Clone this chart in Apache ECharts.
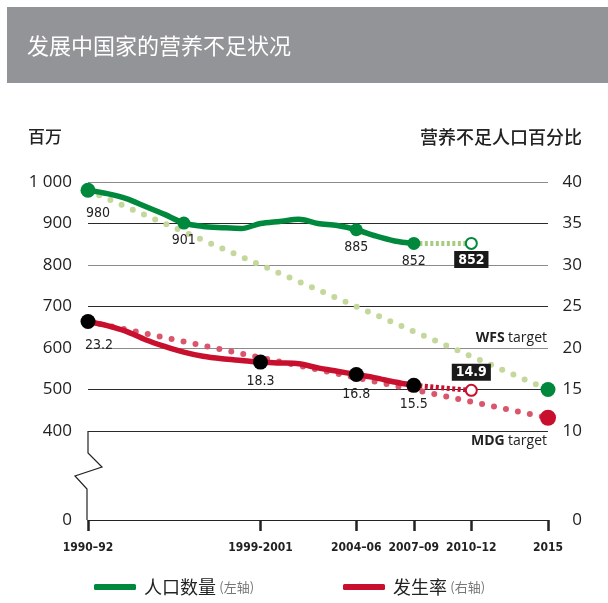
<!DOCTYPE html>
<html><head><meta charset="utf-8">
<script src="https://cdn.jsdelivr.net/npm/echarts@6.0.0/dist/echarts.min.js"></script>
<style>html,body{margin:0;padding:0;background:#fff}#c{width:608px;height:603px}</style>
</head><body><div id="c"></div>
<script>
// ---- data ----
const years = [1991,1992,1993,1994,1995,1996,1997,1998,1999,2000,2001,2002,2003,2004,2005,2006,2007,2008];
const popMillions = [980,972,960,941,922,901,893,890,888,900,905,910,900,895,885,870,858,852];
const undernourishedPct = [23.2,22.7,22.0,21.0,20.2,19.5,19.0,18.7,18.5,18.3,18.2,18.1,17.6,17.2,16.8,16.4,15.9,15.5];
const popKeyYears = [1991,1996,2005,2008];
const popKeyValues = [980,901,885,852];
const pctKeyYears = [1991,2000,2005,2008];
const pctKeyValues = [23.2,18.3,16.8,15.5];
const projYears = [2008,2011];
const popProjValues = [852,852];
const pctProjValues = [15.5,14.9];
const targetYears = [1991,2015];
const wfsTargetValues = [980,500];
const mdgTargetValues = [23.2,11.6];
const tickYears = [1991,2000,2005,2008,2011,2015];
const tickLabels = ['1990–92','1999-2001','2004–06','2007–09','2010–12','2015'];
const leftAxis = {min:400, max:1000, interval:100};
const rightAxis = {min:10, max:40, interval:5};
const titleText = '发展中国家的营养不足状况';
const leftTitle = '百万';
const rightTitle = '营养不足人口百分比';
const popName = '人口数量', pctName = '发生率';

// ---- styles ----
const GREEN = '#00883d', LGREEN = '#c3d89a', PGREEN = '#a8cb80';
const RED = '#c8102e', PINK = '#d9566c';
const NUM = '"Open Sans","Noto Sans",sans-serif';
const NARROW = '"Liberation Sans Narrow","DejaVu Sans Condensed","Roboto",sans-serif';
const CJK = '"Noto Sans CJK SC",sans-serif';
const G = {left:88, right:60, top:182, h:249, bh:89};

const zip = (xs, ys) => xs.map((x,i)=>[x, ys[i]]);
const noEmph = {disabled:true};

const chart = echarts.init(document.getElementById('c'), null, {renderer:'canvas'});
const lastOnly = (sym) => (v, p) => (p.dataIndex === 1 ? sym : 'none');

const keyLabel = (arr, first) => arr.map((d,i)=>({
  value:d,
  label: i===0 ? {offset:[first, 0], distance: 9} : {}
}));

chart.setOption({
  animation:false,
  grid:[
    {left:G.left, right:G.right, top:G.top, height:G.h},
    {left:G.left, right:G.right, top:G.top+G.h, height:G.bh}
  ],
  xAxis:[
    {gridIndex:0, type:'value', min:1991, max:2015, show:false},
    {gridIndex:1, type:'value', min:1991, max:2015,
     axisLine:{show:true, lineStyle:{color:'#222', width:1}},
     axisTick:{show:true, customValues:tickYears, length:11, lineStyle:{color:'#222', width:2.5}},
     splitLine:{show:false},
     axisLabel:{customValues:tickYears, margin:22, color:'#222', fontFamily:NARROW, fontWeight:'bold', fontSize:12,
       formatter:(v)=>tickLabels[tickYears.indexOf(v)] || ''}}
  ],
  yAxis:[
    {gridIndex:0, type:'value', position:'left', min:leftAxis.min, max:leftAxis.max, interval:leftAxis.interval,
     axisLine:{show:false}, axisTick:{show:false},
     splitLine:{show:true, lineStyle:{color:['#2a2a2a','#2a2a2a','#8c8c8c','#2a2a2a','#8c8c8c','#2a2a2a','#8c8c8c'], width:1.2}},
     axisLabel:{margin:16, color:'#222', fontFamily:NUM, fontSize:17,
       formatter:(v)=> v>=1000 ? String(v).replace(/(\d)(\d{3})$/,'$1 $2') : String(v)}},
    {gridIndex:0, type:'value', position:'right', min:rightAxis.min, max:rightAxis.max, interval:rightAxis.interval,
     axisLine:{show:false}, axisTick:{show:false}, splitLine:{show:false},
     axisLabel:{margin:34, align:'right', color:'#222', fontFamily:NUM, fontSize:17}},
    {gridIndex:1, type:'value', position:'left', min:0, max:1, interval:1,
     axisLine:{show:false}, axisTick:{show:false}, splitLine:{show:false},
     axisLabel:{margin:16, color:'#222', fontFamily:NUM, fontSize:17, formatter:(v)=> v===0?'0':''}},
    {gridIndex:1, type:'value', position:'right', min:0, max:1, interval:1,
     axisLine:{show:false}, axisTick:{show:false}, splitLine:{show:false},
     axisLabel:{margin:34, align:'right', color:'#222', fontFamily:NUM, fontSize:17, formatter:(v)=> v===0?'0':''}}
  ],
  legend:[
    {left:89, top:573, data:[popName], icon:'roundRect', itemWidth:42, itemHeight:6, itemGap:0, selectedMode:false,
     formatter:(n)=>'{a|'+n+'} {b|(左轴)}',
     textStyle:{rich:{a:{fontFamily:CJK, fontSize:18, color:'#222', padding:[0,0,0,3]}, b:{fontFamily:CJK, fontSize:13, color:'#777'}}}},
    {left:338, top:573, data:[pctName], icon:'roundRect', itemWidth:42, itemHeight:6, itemGap:0, selectedMode:false,
     formatter:(n)=>'{a|'+n+'} {b|(右轴)}',
     textStyle:{rich:{a:{fontFamily:CJK, fontSize:18, color:'#222', padding:[0,0,0,3]}, b:{fontFamily:CJK, fontSize:13, color:'#777'}}}}
  ],
  series:[
    // targets (dotted)
    {type:'line', name:'WFS', xAxisIndex:0, yAxisIndex:0, z:1, data:zip(targetYears, wfsTargetValues),
     symbol:lastOnly('circle'), symbolSize:15, itemStyle:{color:GREEN, opacity:1},
     lineStyle:{color:LGREEN, width:6, type:[0,12.2], cap:'round'}, emphasis:noEmph, silent:true},
    {type:'line', name:'MDG', xAxisIndex:0, yAxisIndex:1, z:1, data:zip(targetYears, mdgTargetValues),
     symbol:lastOnly('circle'), symbolSize:16, itemStyle:{color:RED, opacity:1},
     lineStyle:{color:PINK, width:6, type:[0,12.2], cap:'round'}, emphasis:noEmph, silent:true},
    // main lines
    {type:'line', name:popName, xAxisIndex:0, yAxisIndex:0, z:3, data:zip(years, popMillions),
     smooth:0.3, showSymbol:false, symbol:'none', color:GREEN,
     lineStyle:{color:GREEN, width:5.5}, emphasis:noEmph, silent:true},
    {type:'line', name:pctName, xAxisIndex:0, yAxisIndex:1, z:3, data:zip(years, undernourishedPct),
     smooth:0.3, showSymbol:false, symbol:'none', color:RED,
     lineStyle:{color:RED, width:5.5}, emphasis:noEmph, silent:true},
    // projections
    {type:'line', name:'popProj', xAxisIndex:0, yAxisIndex:0, z:3,
     data: zip(projYears, popProjValues).map((d,i)=> i===1 ? {value:d, label:{show:true}} : d),
     symbol:lastOnly('emptyCircle'), symbolSize:11, itemStyle:{color:GREEN, borderWidth:2, opacity:1},
     lineStyle:{color:PGREEN, width:5, type:[3,2.5]},
     label:{show:false, position:'bottom', distance:1, formatter:(p)=>String(p.value[1]),
       color:'#fff', backgroundColor:'#1a1a1a', fontFamily:NARROW, fontWeight:'bold', fontSize:14, padding:[2,4,1,4]},
     emphasis:noEmph, silent:true},
    {type:'line', name:'pctProj', xAxisIndex:0, yAxisIndex:1, z:3,
     data: zip(projYears, pctProjValues).map((d,i)=> i===1 ? {value:d, label:{show:true}} : d),
     symbol:lastOnly('emptyCircle'), symbolSize:11, itemStyle:{color:RED, borderWidth:2, opacity:1},
     lineStyle:{color:RED, width:5, type:[3,2.5]},
     label:{show:false, position:'top', distance:3, formatter:(p)=>String(p.value[1]),
       color:'#fff', backgroundColor:'#1a1a1a', fontFamily:NARROW, fontWeight:'bold', fontSize:14, padding:[2,4,1,4]},
     emphasis:noEmph, silent:true},
    // key markers
    {type:'scatter', name:'popKey', xAxisIndex:0, yAxisIndex:0, z:5,
     data:keyLabel(zip(popKeyYears, popKeyValues), 10), symbolSize:(v,p)=>p.dataIndex===0?15:13,
     itemStyle:{color:GREEN, opacity:1},
     label:{show:true, position:'bottom', distance:4, color:'#222', fontFamily:NARROW, fontSize:14,
       formatter:(p)=>String(p.value[1])}, emphasis:noEmph, silent:true},
    {type:'scatter', name:'pctKey', xAxisIndex:0, yAxisIndex:1, z:5,
     data:keyLabel(zip(pctKeyYears, pctKeyValues), 11), symbolSize:15,
     itemStyle:{color:'#000', opacity:1},
     label:{show:true, position:'bottom', distance:5, color:'#222', fontFamily:NARROW, fontSize:14,
       formatter:(p)=>p.value[1].toFixed(1)}, emphasis:noEmph, silent:true}
  ],
  graphic:[
    {type:'rect', shape:{x:7, y:7, width:601, height:76}, style:{fill:'#939497'}, silent:true},
    {type:'text', x:27, y:46, style:{text:titleText, fill:'#fff', font:'22px "Noto Sans CJK SC"', textVerticalAlign:'middle'}, silent:true},
    {type:'text', x:28, y:137, style:{text:leftTitle, fill:'#222', font:'500 17px "Noto Sans CJK SC"', textVerticalAlign:'middle'}, silent:true},
    {type:'text', x:582, y:137, style:{text:rightTitle, fill:'#222', font:'500 18px "Noto Sans CJK SC"', textAlign:'right', textVerticalAlign:'middle'}, silent:true},
    {type:'polyline', shape:{points:[[G.left,G.top+G.h],[G.left,G.top+G.h+22],[G.left+14,G.top+G.h+36],[G.left-13,G.top+G.h+45],[G.left-1,G.top+G.h+58],[G.left-1,G.top+G.h+G.bh]]},
     style:{stroke:'#222', lineWidth:1.2, fill:null}, silent:true},
    {type:'text', x:547, y:338, style:{text:'{b|WFS} {n|target}', textAlign:'right', textVerticalAlign:'middle',
      rich:{b:{fontFamily:NUM, fontWeight:'bold', fontSize:14, fill:'#222'}, n:{fontFamily:NUM, fontSize:14, fill:'#222'}}}, silent:true},
    {type:'text', x:547, y:441, style:{text:'{b|MDG} {n|target}', textAlign:'right', textVerticalAlign:'middle',
      rich:{b:{fontFamily:NUM, fontWeight:'bold', fontSize:14, fill:'#222'}, n:{fontFamily:NUM, fontSize:14, fill:'#222'}}}, silent:true}
  ]
});
</script></body></html>
